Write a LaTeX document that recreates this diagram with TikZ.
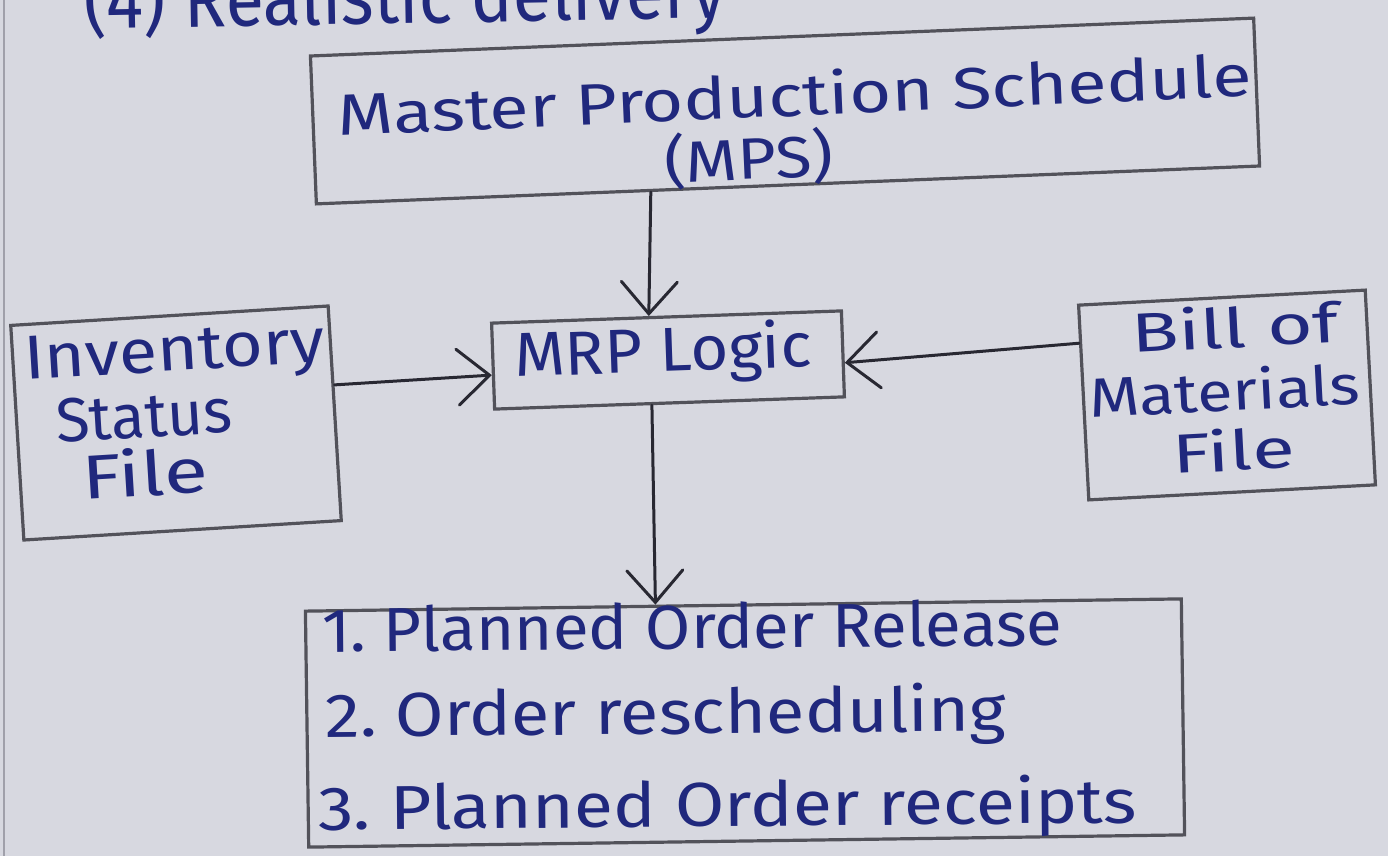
\documentclass[tikz,border=0pt]{standalone}
\usepackage{fontspec}
\newfontfamily\handfont{Fira Sans}
\usetikzlibrary{arrows.meta,calc}
\definecolor{paper}{RGB}{215,216,224}
\definecolor{ink}{RGB}{32,40,125}
\definecolor{pencil}{RGB}{82,82,90}
\definecolor{lead}{RGB}{40,40,50}
\definecolor{margin}{RGB}{160,160,170}
% widen a handwritten-looking line horizontally
\newcommand\widen[2]{\scalebox{#1}[1]{#2}}

\begin{document}
\begin{tikzpicture}[x=1pt,y=-1pt,
  box/.style={draw=pencil, line width=3.2pt, inner sep=0pt},
  txt/.style={text=ink, anchor=base west, inner sep=0pt},
  flow/.style={draw=lead, line width=3pt, line cap=round,
    -{Straight Barb[length=32pt,width=56pt,line cap=round]}},
]
% paper
\fill[paper] (0,0) rectangle (1388,856);
\useasboundingbox (0,0) rectangle (1388,856);
\draw[margin, line width=1.2pt] (4,0) -- (4,856);

% heading line, cut by the top of the page
\begin{scope}
\clip (0,0) rectangle (1388,856);
\node[txt, rotate=1, font=\handfont\fontsize{78pt}{82pt}\selectfont] (head) at (84,29) {\widen{0.9}{(4) Realistic delivery}};
\end{scope}

% boxes
\node[box, minimum width=944pt, minimum height=148pt, rotate=2.3] (mps) at (785,111) {};
\node[box, minimum width=318pt, minimum height=215pt, rotate=3.5] (inv) at (176,423) {};
\node[box, minimum width=350pt, minimum height=86pt, rotate=2] (mrp) at (668,360) {};
\node[box, minimum width=287pt, minimum height=195pt, rotate=3] (bom) at (1227,395) {};
\node[box, minimum width=876pt, minimum height=236pt, rotate=0.8] (out) at (745,723) {};

% texts
\begin{scope}[font=\handfont\fontsize{58pt}{62pt}\selectfont]
\node[txt, rotate=2.5] (mps1) at (338,136) {\widen{1.24}{Master Production Schedule}};
\node[txt, rotate=2.5] (mps2) at (665,183) {\widen{1.15}{(MPS)}};
\end{scope}
\node[txt, rotate=2, font=\handfont\fontsize{62pt}{66pt}\selectfont] (mrpt) at (515,377) {\widen{1.05}{MRP Logic}};

\begin{scope}[font=\handfont\fontsize{62pt}{66pt}\selectfont]
\node[txt, rotate=3.5] (inv1) at (25,380) {\widen{1.13}{Inventory}};
\node[txt, rotate=3.5] (inv2) at (57,443) {Status};
\node[txt, rotate=3.5] (inv3) at (83,500) {\widen{1.3}{File}};
\end{scope}

\begin{scope}[font=\handfont\fontsize{55pt}{60pt}\selectfont]
\node[txt, rotate=3] (bom1) at (1132,353) {\widen{1.42}{Bill of}};
\node[txt, rotate=3] (bom2) at (1090,418) {\widen{1.18}{Materials}};
\node[txt, rotate=3] (bom3) at (1173,474) {\widen{1.42}{File}};
\end{scope}

\begin{scope}[font=\handfont\fontsize{62pt}{66pt}\selectfont]
\node[txt, rotate=0.5] (out1) at (322,652) {\widen{1.06}{1.\ Planned Order Release}};
\node[txt, rotate=0.5] (out2) at (325,737) {\widen{1.135}{2.\ Order rescheduling}};
\node[txt, rotate=0.5] (out3) at (318,830) {\widen{1.155}{3.\ Planned Order receipts}};
\end{scope}

% flows into and out of the MRP logic
\draw[flow] ($(mps.south west)!0.355!(mps.south east)$) -- ($(mrp.north west)!0.45!(mrp.north east)$);
\draw[flow] ($(inv.north east)!0.37!(inv.south east)$) -- ($(mrp.north west)!0.6!(mrp.south west)$);
\draw[flow] ($(bom.north west)!0.2!(bom.south west)$) -- ($(mrp.north east)!0.6!(mrp.south east)$);
\draw[flow] ($(mrp.south west)!0.45!(mrp.south east)$) -- ($(out.north west)!0.4!(out.north east)$);
\end{tikzpicture}
\end{document}
